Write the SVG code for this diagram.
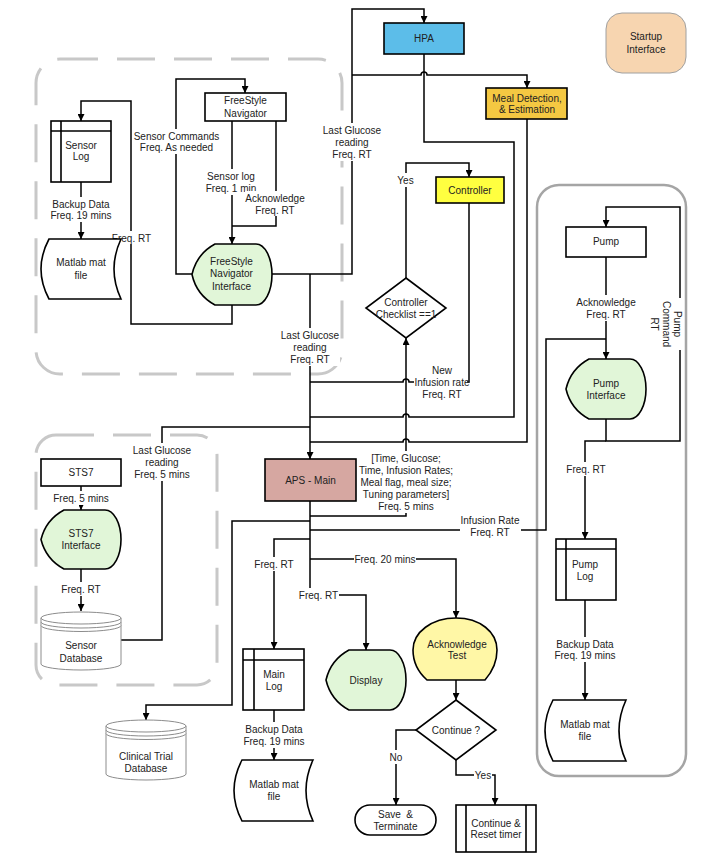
<svg xmlns="http://www.w3.org/2000/svg" width="718" height="864" viewBox="0 0 718 864">
<defs>
<marker id="arr" viewBox="0 0 7 7" refX="7" refY="3.5" markerWidth="7" markerHeight="7" markerUnits="userSpaceOnUse" orient="auto"><path d="M0,0 L7,3.5 L0,7 Z" fill="#000"/></marker>
<marker id="arrS" viewBox="0 0 5 5" refX="5" refY="2.5" markerWidth="5" markerHeight="5" markerUnits="userSpaceOnUse" orient="auto"><path d="M0,0 L5,2.5 L0,5 Z" fill="#000"/></marker>
</defs>
<style>
.n{fill:#fff;stroke:#000;stroke-width:1.6}
.c{fill:none;stroke:#000;stroke-width:1.5}
.a{marker-end:url(#arr)}
.as{marker-end:url(#arrS)}
text{font-family:"Liberation Sans",Arial,sans-serif;font-size:10px;fill:#222;text-anchor:middle}
.bg{fill:#fff}
.gd{fill:none;stroke:#c8c8c8;stroke-width:3;stroke-dasharray:38 19}
.gs{fill:none;stroke:#a5a5a5;stroke-width:2.5}
.db{fill:#fff;stroke:#8c8c8c;stroke-width:1}
.green{fill:#e1f6d8;stroke:#000;stroke-width:1.6}
.ln{fill:none;stroke:#000;stroke-width:1.6}
</style>
<rect width="718" height="864" fill="#fff"/>

<g id="groups">
<rect class="gd" x="36" y="59" width="306" height="315" rx="24"/>
<rect class="gd" x="36" y="435" width="181" height="250" rx="20"/>
<rect class="gs" x="537" y="185" width="149" height="591" rx="22"/>
</g>

<g id="connectors">
<path class="c a" d="M232,305 V324 H131 V101 H81 V121"/>
<path class="c a" d="M192,274 H176 V79 H245 V93"/>
<path class="c a" d="M232,121 V244"/>
<path class="c" d="M276,121 V226 H232"/>
<path class="c a" d="M81,182 V239"/>
<path class="c a" d="M272,274 H352 V9 H424 V23"/>
<path class="c a" d="M310,274 V459"/>
<path class="c a" d="M352,75 H421 A3,3 0 0 1 427,75 H527 V88"/>
<path class="c" d="M424,54 V142 H514 V417 H409 A3,3 0 0 0 403,417 H310"/>
<path class="c" d="M527,119 V442 H409 A3,3 0 0 0 403,442 H310"/>
<path class="c" d="M469,203 V382 H409 A3,3 0 0 0 403,382 H310"/>
<path class="c a" d="M406,278 V163 H469 V177"/>
<path class="c a" d="M310,516 H406 V338"/>
<path class="c" d="M121,640 H162 V427 H310"/>
<path class="c as" d="M81,486 V510"/>
<path class="c a" d="M81,569 V611"/>
<path class="c a" d="M310,501 V595 H366 V650"/>
<path class="c a" d="M310,521 H232 V705 H146 V720"/>
<path class="c" d="M310,530 H546 V339 H606"/>
<path class="c a" d="M310,539 H274 V649"/>
<path class="c a" d="M310,559 H456 V618"/>
<path class="c a" d="M606,257 V359"/>
<path class="c a" d="M606,419 V441 H680 V207 H606 V227"/>
<path class="c a" d="M606,441 H585 V539"/>
<path class="c a" d="M585,600 V700"/>
<path class="c a" d="M274,710 V760"/>
<path class="c a" d="M456,680 V700"/>
<path class="c a" d="M416,730 H396 V805"/>
<path class="c a" d="M456,760 V775 H495 V805"/>
</g>

<g id="labels">
<rect class="bg" x="132" y="129" width="89" height="25"/>
<text x="176.5" y="139.5">Sensor Commands</text><text x="176.5" y="150.5">Freq. As needed</text>
<rect class="bg" x="205" y="169" width="52" height="26"/>
<text x="231" y="179.5">Sensor log</text><text x="231" y="191.5">Freq. 1 min</text>
<rect class="bg" x="245" y="191" width="61" height="25"/>
<text x="275" y="201.5">Acknowledge</text><text x="275" y="213.5">Freq. RT</text>
<rect class="bg" x="49" y="197" width="64" height="25"/>
<text x="81" y="207.5">Backup Data</text><text x="81" y="219">Freq. 19 mins</text>
<rect class="bg" x="127" y="231" width="9" height="13"/>
<text x="131.5" y="241.5">Freq. RT</text>
<rect class="bg" x="322" y="123" width="60" height="38"/>
<text x="352" y="133.5">Last Glucose</text><text x="352" y="145.5">reading</text><text x="352" y="157.5">Freq. RT</text>
<rect class="bg" x="396" y="173" width="19" height="14"/>
<text x="405.5" y="183.5">Yes</text>
<rect class="bg" x="280" y="328" width="60" height="38"/>
<text x="310" y="338.5">Last Glucose</text><text x="310" y="350.5">reading</text><text x="310" y="362.5">Freq. RT</text>
<rect class="bg" x="414" y="363" width="53" height="38"/>
<text x="442" y="373.5">New</text><text x="442" y="385.5">Infusion rate</text><text x="442" y="397.5">Freq. RT</text>
<rect class="bg" x="132" y="443" width="60" height="38"/>
<text x="162" y="453.5">Last Glucose</text><text x="162" y="465.5">reading</text><text x="162" y="477.5">Freq. 5 mins</text>
<rect class="bg" x="52" y="491" width="58" height="14"/>
<text x="81" y="501.5">Freq. 5 mins</text>
<rect class="bg" x="61" y="582" width="40" height="14"/>
<text x="81" y="592.5">Freq. RT</text>
<rect class="bg" x="358" y="451" width="96" height="62"/>
<text x="406" y="461.5">[Time, Glucose;</text><text x="406" y="473.5">Time, Infusion Rates;</text><text x="406" y="485.5">Meal flag, meal size;</text><text x="406" y="497.5">Tuning parameters]</text><text x="406" y="509.5">Freq. 5 mins</text>
<rect class="bg" x="460" y="513" width="61" height="26"/>
<text x="490" y="523.5">Infusion Rate</text><text x="490" y="535.5">Freq. RT</text>
<rect class="bg" x="254" y="557" width="40" height="14"/>
<text x="274" y="567.5">Freq. RT</text>
<rect class="bg" x="354" y="552" width="62" height="14"/>
<text x="385" y="562.5">Freq. 20 mins</text>
<rect class="bg" x="298" y="588" width="41" height="14"/>
<text x="318.5" y="598.5">Freq. RT</text>
<rect class="bg" x="242" y="722" width="64" height="26"/>
<text x="274" y="732.5">Backup Data</text><text x="274" y="744.5">Freq. 19 mins</text>
<rect class="bg" x="389" y="750" width="14" height="14"/>
<text x="396" y="760.5">No</text>
<rect class="bg" x="474" y="768" width="18" height="14"/>
<text x="483" y="778.5">Yes</text>
<rect class="bg" x="575" y="295" width="62" height="26"/>
<text x="606" y="305.5">Acknowledge</text><text x="606" y="317.5">Freq. RT</text>
<rect class="bg" x="648" y="298" width="36" height="52"/>
<g transform="translate(666,324) rotate(90)"><text x="0" y="-7.5">Pump</text><text x="0" y="3.5">Command</text><text x="0" y="15.5">RT</text></g>
<rect class="bg" x="566" y="462" width="40" height="14"/>
<text x="586" y="472.5">Freq. RT</text>
<rect class="bg" x="553" y="637" width="64" height="25"/>
<text x="585" y="647.5">Backup Data</text><text x="585" y="658.5">Freq. 19 mins</text>
</g>

<g id="hpa"><rect x="384" y="23" width="80" height="31" fill="#5cbde9" stroke="#000" stroke-width="1.6"/><text x="424" y="41.5">HPA</text></g>
<g id="meal"><rect x="486" y="88" width="81" height="31" fill="#f4c842" stroke="#000" stroke-width="1.6"/><text x="527" y="102">Meal Detection,</text><text x="527" y="113">&amp; Estimation</text></g>
<g id="startup"><rect x="606" y="13" width="80" height="60" rx="16" fill="#f7d5b0" stroke="#a0a0a0" stroke-width="1"/><text x="646" y="40">Startup</text><text x="646" y="52.5">Interface</text></g>
<g id="controller"><rect x="436" y="177" width="68" height="26" fill="#ffff40" stroke="#000" stroke-width="1.6"/><text x="470" y="193.5">Controller</text></g>
<g id="checklist"><polygon class="n" points="406,278 446,308 406,338 366,308"/><text x="406" y="305.5">Controller</text><text x="406" y="317.5">Checklist ==1</text></g>
<g id="navigator"><rect class="n" x="205" y="93" width="81" height="28"/><text x="245.5" y="104">FreeStyle</text><text x="245.5" y="117">Navigator</text></g>
<g id="nav-interface"><path class="green" d="M192,274.5 a46,46 0 0 1 23,-30.5 h41 a16,30.5 0 0 1 0,61 h-41 a46,46 0 0 1 -23,-30.5 z"/><text x="231.5" y="265">FreeStyle</text><text x="231.5" y="277">Navigator</text><text x="231.5" y="289.5">Interface</text></g>
<g id="sensor-log"><rect class="n" x="51" y="121" width="60" height="61"/><path class="ln" d="M61,121 V182 M51,131 H111"/><text x="81" y="149">Sensor</text><text x="81" y="160">Log</text></g>
<g id="matlab1"><path class="n" d="M49,239 H121 Q107,269 121,299 H49 Q33,269 49,239 Z"/><text x="81" y="266">Matlab mat</text><text x="81" y="278.5">file</text></g>
<g id="aps-main"><rect x="265" y="459" width="91" height="42" fill="#d6a7a1" stroke="#000" stroke-width="1.6"/><text x="310.5" y="483.5">APS - Main</text></g>
<g id="sts7"><rect class="n" x="41" y="459" width="80" height="27"/><text x="81" y="475.5">STS7</text></g>
<g id="sts7-interface"><path class="green" d="M41,539.5 a46,46 0 0 1 23,-29.5 h41 a16,29.5 0 0 1 0,59 h-41 a46,46 0 0 1 -23,-29.5 z"/><text x="81" y="536.5">STS7</text><text x="81" y="548.5">Interface</text></g>
<g id="sensor-db"><path class="db" d="M41,618 A40,6 0 0 1 121,618 V664 A40,6 0 0 1 41,664 Z"/><path class="db" fill="none" d="M41,618 A40,6 0 0 0 121,618 M41,622 A40,6 0 0 0 121,622 M41,625.5 A40,6 0 0 0 121,625.5"/><text x="81" y="648.5">Sensor</text><text x="81" y="661.5">Database</text></g>
<g id="clinical-db"><path class="db" d="M106,726 A40,6 0 0 1 186,726 V774 A40,6 0 0 1 106,774 Z"/><path class="db" fill="none" d="M106,726 A40,6 0 0 0 186,726 M106,730 A40,6 0 0 0 186,730 M106,733.5 A40,6 0 0 0 186,733.5"/><text x="146" y="759.5">Clinical Trial</text><text x="146" y="771.5">Database</text></g>
<g id="main-log"><rect class="n" x="243" y="649" width="61" height="61"/><path class="ln" d="M254,649 V710 M243,660 H304"/><text x="274" y="677.5">Main</text><text x="274" y="689.5">Log</text></g>
<g id="matlab2"><path class="n" d="M242,760 H313 Q299,790.5 313,821 H242 Q226,790.5 242,760 Z"/><text x="274" y="787.5">Matlab mat</text><text x="274" y="799.5">file</text></g>
<g id="display"><path class="green" d="M326,680 a46,46 0 0 1 23,-30 h41 a16,30 0 0 1 0,60 h-41 a46,46 0 0 1 -23,-30 z"/><text x="366" y="683.5">Display</text></g>
<g id="ack-test"><path d="M427,680 C418,672 413,661 413,650 C413,632 432,618 456,618 C480,618 497,632 497,650 C497,662 492,672 485,680 Z" fill="#fff7a6" stroke="#000" stroke-width="1.6"/><text x="457" y="647.5">Acknowledge</text><text x="457" y="659">Test</text></g>
<g id="continue"><polygon class="n" points="456,700 496,730 456,760 416,730"/><text x="456" y="733.5">Continue ?</text></g>
<g id="save-terminate"><rect class="n" x="355" y="805" width="81" height="30" rx="15"/><text x="395.5" y="817.5" xml:space="preserve">Save  &amp;</text><text x="395.5" y="829.5">Terminate</text></g>
<g id="continue-reset"><rect class="n" x="456" y="805" width="80" height="47"/><path class="ln" d="M466,805 V852 M526,805 V852"/><text x="496" y="827" font-size="9">Continue &amp;</text><text x="496" y="837.5" font-size="9">Reset timer</text></g>
<g id="pump"><rect class="n" x="566" y="227" width="80" height="30"/><text x="606" y="245">Pump</text></g>
<g id="pump-interface"><path class="green" d="M566,389 a46,46 0 0 1 23,-30 h41 a16,30 0 0 1 0,60 h-41 a46,46 0 0 1 -23,-30 z"/><text x="606" y="386.5">Pump</text><text x="606" y="398.5">Interface</text></g>
<g id="pump-log"><rect class="n" x="556" y="539" width="60" height="61"/><path class="ln" d="M566,539 V600 M556,549 H616"/><text x="585" y="567.5">Pump</text><text x="585" y="579.5">Log</text></g>
<g id="matlab3"><path class="n" d="M553,700 H626 Q612,730.5 626,761 H553 Q537,730.5 553,700 Z"/><text x="585" y="727.5">Matlab mat</text><text x="585" y="739.5">file</text></g>
</svg>
